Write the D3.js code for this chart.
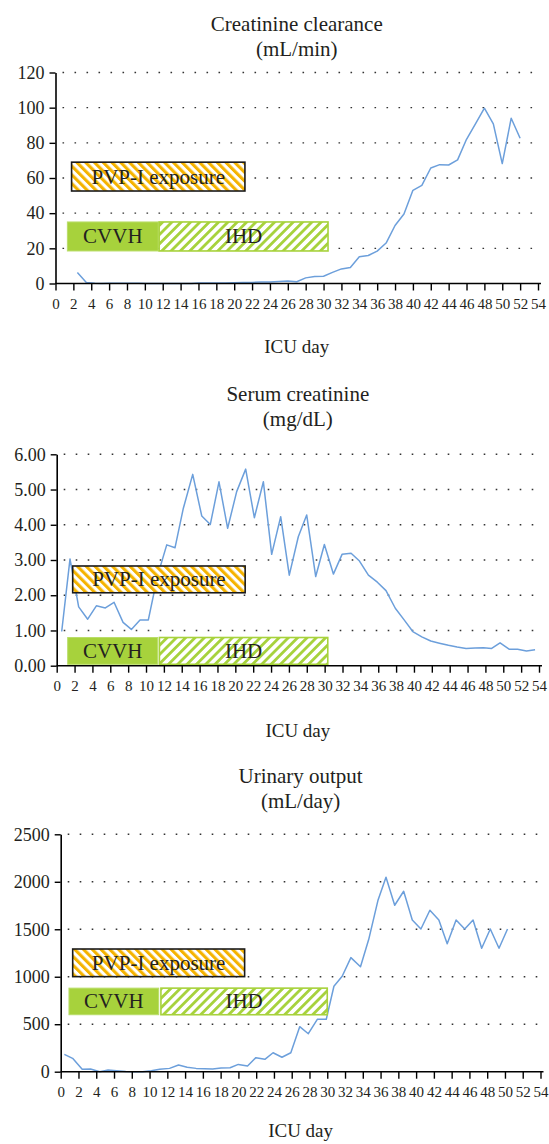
<!DOCTYPE html>
<html><head><meta charset="utf-8">
<script src="https://cdn.jsdelivr.net/npm/d3@7"></script>
<style>
html,body{margin:0;padding:0;background:#fff;}
svg{display:block;}
</style></head>
<body>
<svg id="chart" width="549" height="1144"></svg>
<script>
// ---------- data ----------
const xTickLabels = [0,2,4,6,8,10,12,14,16,18,20,22,24,26,28,30,32,34,36,38,40,42,44,46,48,50,52,54];
const xAxisTitle = "ICU day";

const ccTitle = ["Creatinine clearance", "(mL/min)"];
const ccTicks = [0,20,40,60,80,100,120];
const ccDays   = [2.45,3.45,4.4,5.2,6,7,8,9.3,10.2,15.2,16,17,18,19,20,21,22,23,24,25,26,27,28,29,30,31,32,33,34,35,36,37,38,39,40,41,42,43,44,45,46,47,48,49,50,51,52];
const ccValues = [6.3,0.6,0.2,0,0.1,0.1,0.1,0.1,0,0,0.3,0.3,0.3,0.35,0.4,0.5,0.6,0.8,0.9,1.1,1.4,1.0,3.2,4.0,4.1,6.3,8.3,9.1,15.2,15.9,18.4,23.0,33.0,39.5,53.0,55.8,65.7,67.6,67.4,70.3,82.0,90.8,99.7,90.8,68.2,94.0,82.6];

const scTitle = ["Serum creatinine", "(mg/dL)"];
const scTicks = [0,1,2,3,4,5,6];
const scDays   = [0.56,1.49,2.46,3.47,4.44,5.45,6.42,7.43,8.36,9.33,10.26,11.3,12.32,13.25,14.18,15.23,16.24,17.2,18.17,19.14,20.15,21.16,22.13,23.14,24.07,25.08,26.04,27.05,27.99,29.0,29.97,30.98,31.95,32.96,33.9,34.9,35.9,36.87,37.91,38.9,39.87,40.88,41.88,42.85,43.86,44.83,45.84,46.85,47.78,48.7,49.64,50.65,51.6,52.6,53.56];
const scValues = [0.97,3.03,1.67,1.32,1.70,1.64,1.80,1.23,1.03,1.30,1.30,2.56,3.43,3.35,4.47,5.43,4.25,4.01,5.22,3.90,4.94,5.58,4.20,5.22,3.16,4.23,2.57,3.66,4.28,2.53,3.44,2.60,3.16,3.19,2.97,2.57,2.37,2.13,1.63,1.30,0.97,0.82,0.70,0.64,0.58,0.53,0.49,0.50,0.51,0.49,0.65,0.47,0.47,0.42,0.45];

const uoTitle = ["Urinary output", "(mL/day)"];
const uoTicks = [0,500,1000,1500,2000,2500];
const uoDays   = [0.41,1.34,2.42,3.36,4.4,5.34,6.28,7.32,8.14,9.2,10.2,11.13,12.25,13.26,14.23,15.24,16.17,17.1,18.05,19.06,19.99,21.03,21.97,22.98,23.9,24.9,25.9,26.9,27.87,28.88,29.89,30.75,31.68,32.66,33.74,34.67,35.72,36.61,37.59,38.6,39.57,40.54,41.55,42.56,43.5,44.5,45.47,46.41,47.38,48.35,49.33,50.29];
const uoValues = [183,141,25,28,0,18,11,2,0,0,10,25,35,70,46,35,32,28,39,42,77,60,148,130,200,152,200,474,400,552,552,900,1005,1201,1106,1394,1809,2048,1753,1900,1598,1503,1700,1598,1348,1598,1503,1598,1300,1503,1300,1503];

// treatment bars: [startDay, endDay, low, high] for PVP-I, CVVH, IHD per chart
const treatmentNames = ["PVP-I exposure", "CVVH", "IHD"];
const ccTreatments = [[1.8,21.2,52.6,69],[1.33,11.5,18.5,35],[11.6,30.5,18.5,35]];
const scTreatments = [[1.79,21.1,2.07,2.83],[1.23,11.3,0.04,0.8],[11.5,30.35,0.04,0.8]];
const uoTreatments = [[1.35,20.7,1001,1292],[0.93,11.03,600,880],[11.28,30.0,600,880]];

// ---------- layout ----------
const FONT = "'Liberation Serif','Times New Roman',Tinos,'DejaVu Serif',serif";
const svg = d3.select("#chart");
const defs = svg.append("defs");
const ORANGE = "#f5b300", GREEN = "#a7d23c", LINE = "#6c9fdb", INK = "#231f20";

function stripe(id, color, angle, period, width){
  const p = defs.append("pattern").attr("id", id).attr("patternUnits","userSpaceOnUse")
    .attr("width", period).attr("height", period).attr("patternTransform", `rotate(${angle})`);
  p.append("rect").attr("width", period).attr("height", period).attr("fill", "#fff");
  p.append("rect").attr("width", width).attr("height", period).attr("fill", color);
}
stripe("pvp", ORANGE, -45, 6.2, 3.1);
stripe("ihd", GREEN, 45, 6.6, 2.8);

const charts = [
  {title: ccTitle, ticks: ccTicks, fmt: d3.format("d"), days: ccDays, vals: ccValues, tr: ccTreatments,
   x0: 55.5, x1: 538, yTop: 72.5, yBot: 283.5, titleY: 31, labelY: 309, axisTitleY: 353},
  {title: scTitle, ticks: scTicks, fmt: d3.format(".2f"), days: scDays, vals: scValues, tr: scTreatments,
   x0: 56.7, x1: 539, yTop: 454.3, yBot: 665.7, titleY: 401, labelY: 691, axisTitleY: 737},
  {title: uoTitle, ticks: uoTicks, fmt: d3.format("d"), days: uoDays, vals: uoValues, tr: uoTreatments,
   x0: 60.7, x1: 540.5, yTop: 834.3, yBot: 1071.7, titleY: 783, labelY: 1097, axisTitleY: 1137}
];

function txt(sel, size){ return sel.attr("font-family", FONT).attr("font-size", size).attr("fill", INK); }

charts.forEach(c => {
  const x = d3.scaleLinear().domain([0, 54]).range([c.x0, c.x1]);
  const y = d3.scaleLinear().domain([0, d3.max(c.ticks)]).range([c.yBot, c.yTop]);
  const g = svg.append("g");
  const cx = (c.x0 + c.x1) / 2;

  // title
  txt(g.append("text").attr("x", cx).attr("y", c.titleY).attr("text-anchor","middle"), 21).text(c.title[0]);
  txt(g.append("text").attr("x", cx).attr("y", c.titleY + 25).attr("text-anchor","middle"), 21).text(c.title[1]);

  // dotted gridlines
  g.append("g").selectAll("line").data(c.ticks.filter(t => t > 0)).join("line")
    .attr("x1", c.x0 + 7).attr("x2", c.x1 + 4)
    .attr("y1", d => y(d)).attr("y2", d => y(d))
    .attr("stroke", "#333").attr("stroke-width", 1.4)
    .attr("stroke-dasharray", "1.6,10.4");

  // data line
  const line = d3.line().x((d,i) => x(c.days[i])).y(d => y(d));
  g.append("path").datum(c.vals).attr("d", line)
    .attr("fill","none").attr("stroke", LINE).attr("stroke-width", 1.5).attr("stroke-linejoin","round");

  // treatment boxes
  const [pvp, cvvh, ihd] = c.tr;
  const box = (t, fill, stroke, sw) => g.append("rect")
    .attr("x", x(t[0])).attr("width", x(t[1]) - x(t[0]))
    .attr("y", y(t[3])).attr("height", y(t[2]) - y(t[3]))
    .attr("fill", fill).attr("stroke", stroke).attr("stroke-width", sw);
  box(pvp, "url(#pvp)", "#1a1a1a", 1.6);
  box(cvvh, GREEN, "#b9dd69", 1);
  box(ihd, "url(#ihd)", GREEN, 1.6);
  const label = (t, s) => txt(g.append("text")
    .attr("x", (x(t[0]) + x(t[1])) / 2).attr("y", (y(t[2]) + y(t[3])) / 2 + 7)
    .attr("text-anchor","middle"), 21).text(s);
  label(pvp, treatmentNames[0]); label(cvvh, treatmentNames[1]); label(ihd, treatmentNames[2]);

  // y axis
  const ya = d3.axisLeft(y).tickValues(c.ticks).tickFormat(c.fmt).tickSize(6).tickSizeOuter(0).tickPadding(5);
  const yg = g.append("g").attr("transform", `translate(${c.x0},0)`).call(ya);
  yg.attr("font-family", FONT).attr("font-size", 18);
  yg.select(".domain").attr("stroke","#000").attr("stroke-width",1.6);
  yg.selectAll(".tick line").attr("stroke","#000").attr("stroke-width",1.4);
  yg.selectAll(".tick text").attr("fill", INK);

  // x axis
  const xa = d3.axisBottom(x).tickValues(xTickLabels).tickFormat(d3.format("d")).tickSize(7).tickSizeOuter(0).tickPadding(6);
  const xg = g.append("g").attr("transform", `translate(0,${c.yBot})`).call(xa);
  xg.attr("font-family", FONT).attr("font-size", 15);
  xg.select(".domain").attr("d", `M${c.x0},0H${c.x1 + 3}`).attr("stroke","#000").attr("stroke-width",1.6);
  xg.selectAll(".tick line").attr("stroke","#000").attr("stroke-width",1.4);
  xg.selectAll(".tick text").attr("y", c.labelY - c.yBot).attr("dy", null).attr("fill", INK);

  txt(g.append("text").attr("x", cx).attr("y", c.axisTitleY).attr("text-anchor","middle"), 19).text(xAxisTitle);
});
</script>
</body></html>
